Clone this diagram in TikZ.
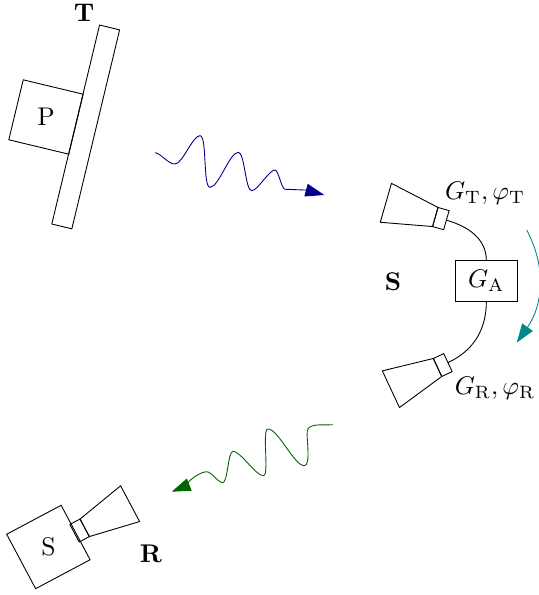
\documentclass[tikz,border=0pt]{standalone}
\usepackage{tikz}
\usetikzlibrary{arrows.meta, positioning}

\definecolor{wavenavy}{RGB}{0,0,139}
\definecolor{wavegreen}{RGB}{0,100,0}
\definecolor{arcteal}{RGB}{0,139,139}

\begin{document}
\begin{tikzpicture}[
    box/.style={rectangle, draw, inner sep=0pt, outer sep=0pt},
    txt/.style={scale=1.15},
    tag/.style={txt, font=\bfseries},
    arrow/.style={-{Triangle[length=8.5pt, width=5.8pt]}},
    horn/.pic={
        \draw (-0.813,0.32) -- (0,0.157) -- (0,-0.157) -- (-0.813,-0.32) -- cycle;
        \draw (0,-0.157) rectangle (0.182,0.157);
        \coordinate (-port) at (0.182,0);
    },
]
\useasboundingbox (0,0) rectangle (8.506,9.407);

%% TRANSMITTER
    \node[box, minimum width=0.326cm, minimum height=3.235cm, rotate=-13.5] (panel) at (1.355,7.40) {};
    \node[box, minimum width=0.975cm, minimum height=0.975cm, rotate=-13.5] (pbox) at (0.727,7.557) {};
    \node[txt] (plabel) at (pbox) {P};
    \node[tag] (tlabel) at (1.328,9.20) {T};

%% SURFACE
    \pic[rotate=-16] (hornT) at (6.882,5.976) {horn};
    \pic[rotate=25] (hornR) at (6.917,3.597) {horn};
    \node[box, txt, minimum width=0.843cm, minimum height=0.563cm] (amp) at (7.689,4.964) {$G_\mathrm{A}$};
    \node[tag] (slabel) at (6.213,4.949) {S};
    \node[txt] (gt) at (7.668,6.356) {$G_\mathrm{T},\varphi_\mathrm{T}$};
    \node[txt] (gr) at (7.826,3.273) {$G_\mathrm{R},\varphi_\mathrm{R}$};

    \draw (hornT-port) to[out=-16, in=90] (amp.north);
    \draw (amp.south) to[out=-90, in=25] (hornR-port);

    \coordinate (arcA) at (8.327,5.771);
    \coordinate (arcB) at (8.169,3.989);
    \draw[arrow, color=arcteal] (arcA) to[out=-62, in=55] (arcB);

%% RECEIVER
    \pic[rotate=208] (hornS) at (1.339,1.062) {horn};
    \node[box, minimum width=0.975cm, minimum height=0.975cm, rotate=28] (sbox) at (0.765,0.759) {};
    \node[txt] (sname) at (sbox) {S};
    \node[tag] (rlabel) at (2.387,0.648) {R};

%% WAVES
    \coordinate (waveTa) at (2.451,6.993);
    \coordinate (waveTb) at (5.127,6.324);
    \draw[arrow, color=wavenavy] (waveTa)
        to[out=-12, in=180, looseness=0.8] (2.767,6.814)
        to[out=0, in=180, looseness=0.5] (3.162,7.262)
        to[out=0, in=180, looseness=0.35] (3.320,6.446)
        to[out=0, in=180, looseness=0.5] (3.768,6.999)
        to[out=0, in=180, looseness=0.4] (3.979,6.392)
        to[out=0, in=180, looseness=0.5] (4.348,6.719)
        to[out=0, in=180, looseness=0.4] (4.506,6.414)
        to[out=0, in=180, looseness=0.6] (4.83,6.403)
        -- (waveTb);

    \coordinate (waveRa) at (5.260,2.693);
    \coordinate (waveRb) at (2.715,1.633);
    \draw[arrow, color=wavegreen] (waveRa)
        to[out=186, in=80, looseness=0.8] (4.859,2.598)
        to[out=-100, in=0, looseness=0.5] (4.811,2.044)
        to[out=180, in=0, looseness=0.5] (4.237,2.625)
        to[out=180, in=0, looseness=0.35] (4.163,1.886)
        to[out=180, in=0, looseness=0.5] (3.684,2.272)
        to[out=180, in=0, looseness=0.4] (3.521,1.776)
        to[out=180, in=0, looseness=0.6] (3.268,1.949)
        to[out=180, in=22, looseness=0.6] (waveRb);
\end{tikzpicture}
\end{document}
